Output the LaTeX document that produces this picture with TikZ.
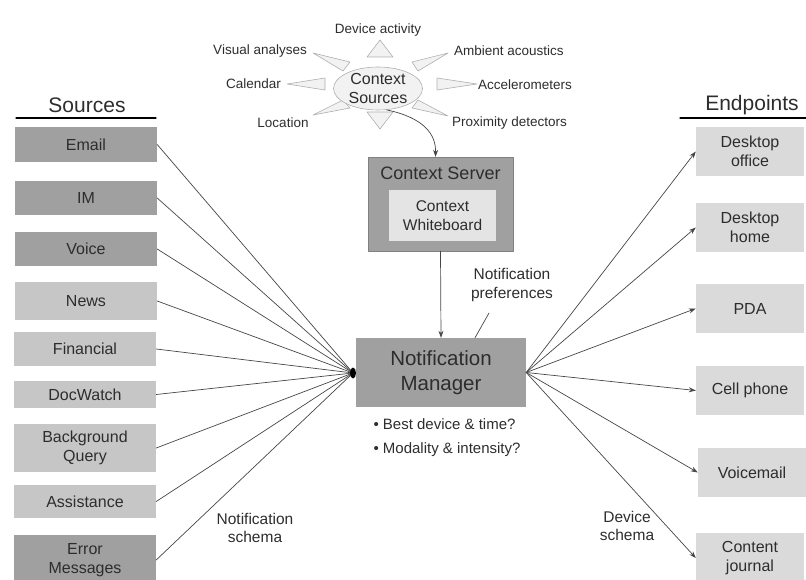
\documentclass[tikz,border=0pt]{standalone}
\usepackage{fontspec}
\setmainfont{Liberation Sans}
\usetikzlibrary{shapes.geometric,arrows.meta}
\definecolor{txtgray}{RGB}{45,45,45}
\definecolor{darkbox}{RGB}{160,160,160}
\definecolor{lightbox}{RGB}{198,198,198}
\definecolor{endfill}{RGB}{218,218,218}
\definecolor{boardfill}{RGB}{228,228,228}
\definecolor{rayfill}{RGB}{242,242,242}
\definecolor{raydraw}{RGB}{175,175,175}
\definecolor{wiregray}{RGB}{70,70,70}
\begin{document}
\begin{tikzpicture}[x=1pt,y=-1pt,>={Stealth[length=7pt,width=5pt]},line join=round,line cap=round,
	every node/.style={text=txtgray},
	box/.style={inner sep=0pt,align=center,font=\fontsize{16}{18.5}\selectfont},
	srcdark/.style={box,fill=darkbox,minimum width=142pt},
	srclight/.style={box,fill=lightbox,minimum width=142pt},
	endbox/.style={box,fill=endfill,minimum width=108pt,minimum height=49pt},
	lbl/.style={align=center,font=\fontsize{15.5}{18.5}\selectfont},
	sunlbl/.style={inner sep=0pt,font=\fontsize{13.5}{16}\selectfont},
	head/.style={font=\fontsize{21}{24}\selectfont},
	ray/.style={fill=rayfill,draw=raydraw,line width=0.6pt},
	wire/.style={wiregray,line width=0.7pt}]
	\useasboundingbox (0,0) rectangle (806,580);
	
	\node[head] (srchead) at (87,105) {Sources};
	\draw[line width=1.2pt] (16,118) -- (156,118);
	\node[head] (endhead) at (752,105) {Endpoints};
	\draw[line width=1.2pt] (680,118) -- (806,118);
	
	\node[srcdark, minimum height=35pt] (email) at (86,144.5) {Email};
	\node[srcdark, minimum height=34pt] (im) at (86,198) {IM};
	\node[srcdark, minimum height=34pt] (voice) at (86,249) {Voice};
	\node[srclight, minimum height=38pt] (news) at (86,301) {News};
	\node[srclight, minimum height=34pt] (fin) at (85,349) {Financial};
	\node[srclight, minimum height=27pt] (doc) at (85,394.5) {DocWatch};
	\node[srclight, minimum height=48pt] (bg) at (85,448) {Background\\Query};
	\node[srclight, minimum height=33pt] (assist) at (85,501.5) {Assistance};
	\node[srcdark, minimum height=50pt] (err) at (85,560) {Error\\Messages};
	
	\node[endbox] (office) at (750,151.5) {Desktop\\office};
	\node[endbox] (home) at (750,227.5) {Desktop\\home};
	\node[endbox] (pda) at (750,308.5) {PDA};
	\node[endbox] (cell) at (750,390.5) {Cell phone};
	\node[endbox] (vmail) at (752,472.5) {Voicemail};
	\node[endbox, minimum height=50pt] (journal) at (750,558) {Content\\journal};
	
	\draw[ray] (380,40) -- (367,57) -- (393,57) -- cycle;
	\draw[ray] (380,129) -- (367,112) -- (393,112) -- cycle;
	\draw[ray] (287,84) -- (325,78) -- (325,90) -- cycle;
	\draw[ray] (477,84) -- (437,78) -- (437,90) -- cycle;
	\draw[ray] (313,53) -- (350,62) -- (343,71) -- cycle;
	\draw[ray] (448,53) -- (412,62) -- (418,71) -- cycle;
	\draw[ray] (313,115) -- (343,100) -- (350,108) -- cycle;
	\draw[ray] (448,116) -- (418,100) -- (412,108) -- cycle;
	\node[ellipse, fill=rayfill, draw=raydraw, line width=0.6pt, inner sep=0pt,
		minimum width=89pt, minimum height=43pt, align=center,
		font=\fontsize{16}{19}\selectfont] (ctxsrc) at (378,88.5) {Context\\Sources};
	
	\node[sunlbl] (devact) at (378,30) {Device activity};
	\node[sunlbl, anchor=east] (visual) at (307,51) {Visual analyses};
	\node[sunlbl, anchor=west] (ambient) at (454,51) {Ambient acoustics};
	\node[sunlbl, anchor=east] (calendar) at (281,84) {Calendar};
	\node[sunlbl, anchor=west] (accel) at (478,85) {Accelerometers};
	\node[sunlbl] (location) at (283,123) {Location};
	\node[sunlbl, anchor=west] (proxim) at (452,123) {Proximity detectors};
	
	\node[fill=darkbox, draw=gray, inner sep=0pt, minimum width=145pt, minimum height=94pt] (cserver) at (440.5,204) {};
	\node[font=\fontsize{18}{20}\selectfont] (cstitle) at (440.5,173) {Context Server};
	\node[box, fill=boardfill, minimum width=107pt, minimum height=51pt,
		font=\fontsize{15.5}{18.5}\selectfont] (board) at (442.5,215.5) {Context\\Whiteboard};
	
	\node[box, fill=darkbox, minimum width=170pt, minimum height=69pt,
		font=\fontsize{20.5}{25}\selectfont] (nm) at (441,372.5) {Notification\\Manager};
	\coordinate (hub) at (353,373);
	
	\node[lbl] (npref) at (512,285) {Notification\\preferences};
	\node[align=left, font=\fontsize{15}{24}\selectfont] (qs) at (447,438)
		{\textbullet\ Best device \& time?\\\textbullet\ Modality \& intensity?};
	\node[lbl] (nschema) at (255,528) {Notification\\schema};
	\node[lbl] (dschema) at (627,526) {Device\\schema};
	
	\draw[wire,->] (ctxsrc.-68) .. controls (425,118) and (436,135) .. ([xshift=-5]cserver.north);
	\draw[wire,->] (cserver.south) -- (nm.north);
	\draw[wire] ([shift={(-23,8)}]npref.south) -- ([xshift=34]nm.north);
	
	\foreach \s in {email,im,voice,news,fin,doc,bg,assist,err}
		\draw[wire] (\s.east) -- (hub);
	\fill[black] (hub) ellipse (3 and 5.5);
	\foreach \e in {office,home,pda,cell,vmail,journal}
		\draw[wire,->] (nm.east) -- (\e.west);
\end{tikzpicture}
\end{document}
